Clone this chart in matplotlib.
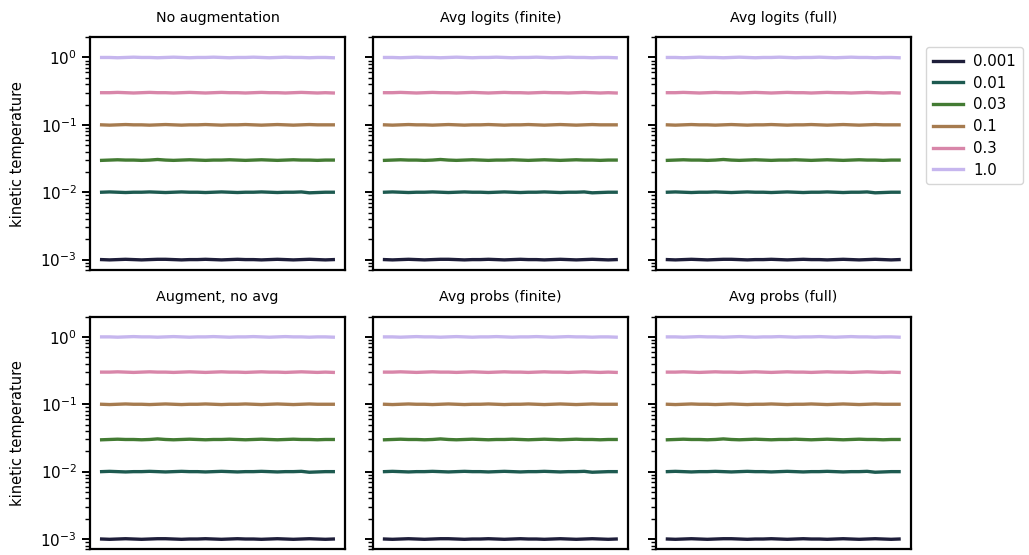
import numpy as np
import matplotlib
matplotlib.use("Agg")
import matplotlib.pyplot as plt

titles = ["No augmentation", "Avg logits (finite)", "Avg logits (full)",
          "Augment, no avg", "Avg probs (finite)", "Avg probs (full)"]
temps = [0.001, 0.01, 0.03, 0.1, 0.3, 1.0]
labels = ["0.001", "0.01", "0.03", "0.1", "0.3", "1.0"]
colors = ["#1e1e3a", "#1d5a50", "#437b33", "#a67b4f", "#d886a9", "#c6b6ee"]

# relative level (value / temperature), one list per temperature
wig_0001 = [1.00, 0.99, 1.00, 1.01, 1.00, 0.99, 1.00, 1.01, 1.01, 1.00, 0.99, 1.00, 1.00, 1.01,
            1.00, 0.99, 1.00, 1.01, 1.00, 1.00, 0.99, 1.00, 1.01, 1.00, 0.99, 1.00, 1.01, 1.00,
            0.99, 1.00]
wig_001 = [1.00, 1.01, 1.00, 0.99, 1.00, 1.00, 1.01, 1.00, 0.99, 1.00, 1.01, 1.00, 1.00, 0.99,
           1.00, 1.01, 1.00, 0.99, 1.00, 1.00, 1.01, 1.00, 0.99, 1.00, 1.00, 1.01, 0.98, 0.99,
           1.00, 1.00]
wig_003 = [0.99, 1.00, 1.01, 1.00, 1.00, 0.99, 1.00, 1.02, 1.00, 0.99, 1.00, 1.01, 1.00, 0.99,
           1.00, 1.00, 1.01, 1.00, 0.99, 1.00, 1.01, 1.00, 0.99, 1.00, 1.01, 1.00, 1.00, 0.99,
           1.00, 1.00]
wig_01 = [1.00, 0.99, 1.00, 1.01, 1.00, 1.00, 0.99, 1.00, 1.01, 1.00, 0.99, 1.00, 1.00, 1.01,
          1.00, 0.99, 1.00, 1.00, 1.01, 1.00, 0.99, 1.00, 1.01, 1.00, 0.99, 1.00, 1.01, 1.00,
          1.00, 1.00]
wig_03 = [1.00, 1.00, 1.01, 1.00, 0.99, 1.00, 1.01, 1.00, 1.00, 0.99, 1.00, 1.01, 1.00, 0.99,
          1.00, 1.01, 1.00, 1.00, 0.99, 1.00, 1.01, 1.00, 1.00, 0.99, 1.00, 1.01, 1.00, 0.99,
          1.00, 0.99]
wig_1 = [1.00, 1.00, 0.99, 1.00, 1.01, 1.00, 1.00, 0.99, 1.00, 1.01, 1.00, 0.99, 1.00, 1.00,
         1.01, 1.00, 0.99, 1.00, 1.00, 1.01, 1.00, 0.99, 1.00, 1.01, 1.00, 1.00, 0.99, 1.00,
         1.00, 0.99]
wiggles = [wig_0001, wig_001, wig_003, wig_01, wig_03, wig_1]

fig, axes = plt.subplots(2, 3, figsize=(10.29, 5.55), dpi=100, sharey=True)
fig.subplots_adjust(left=0.0875, right=0.885, top=0.933, bottom=0.01, wspace=0.11, hspace=0.2)

for k, ax in enumerate(axes.flat):
    for t, w, c, lab in zip(temps, wiggles, colors, labels):
        ax.plot(np.arange(len(w)), np.array(w) * t, color=c, lw=2.4, label=lab)
    ax.set_yscale("log")
    ax.set_ylim(7e-4, 2.0)
    ax.set_xticks([])
    ax.set_title(titles[k], fontsize=10.3, pad=11)
    for s in ax.spines.values():
        s.set_linewidth(1.6)
    ax.tick_params(axis="y", which="major", length=6, width=1.4, labelsize=11)
    ax.tick_params(axis="y", which="minor", length=3.5, width=1.0)
    if k % 3 == 0:
        ax.set_ylabel("kinetic temperature", fontsize=10.5, labelpad=11)

axes[0, 2].legend(loc="upper left", bbox_to_anchor=(1.03, 0.99), fontsize=10.8,
                  handlelength=2.0, borderpad=0.45, labelspacing=0.45, handletextpad=0.7)

fig.savefig("out.png", dpi=100)
